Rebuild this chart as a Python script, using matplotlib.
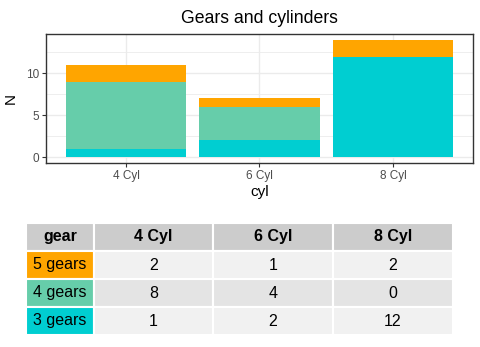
import numpy as np
import matplotlib.pyplot as plt

plt.rcParams['font.family'] = ['Liberation Sans', 'DejaVu Sans']

# Counts of cars by cylinders and gears
cyl_labels = ['4 Cyl', '6 Cyl', '8 Cyl']
gear_labels = ['3 gears', '4 gears', '5 gears']
gear3 = [1, 2, 12]
gear4 = [8, 4, 0]
gear5 = [2, 1, 2]
gear_colors = ['#00CED1', '#66CDAA', '#FFA500']

fig = plt.figure(figsize=(4.81, 3.47), dpi=100)

# --- stacked bars ---
ax = fig.add_axes([46 / 481, 1 - 163 / 347, 427 / 481, 129 / 347])
x = np.arange(1, len(cyl_labels) + 1)
bottom = np.zeros(len(cyl_labels))
for vals, col in zip([gear3, gear4, gear5], gear_colors):
    ax.bar(x, vals, width=0.9, bottom=bottom, color=col, zorder=2)
    bottom += np.array(vals)

ax.set_xlim(0.4, 3.6)
ax.set_ylim(-0.7, 14.7)
ax.set_xticks(x)
ax.set_xticklabels(cyl_labels)
ax.set_yticks([0, 5, 10])
ax.set_yticks([2.5, 7.5, 12.5], minor=True)
ax.grid(True, which='major', color='#EBEBEB', linewidth=1.0, zorder=0)
ax.grid(True, which='minor', axis='y', color='#EBEBEB', linewidth=0.6, zorder=0)
ax.tick_params(axis='both', which='major', labelsize=8.5, labelcolor='#4D4D4D',
               color='#333333', length=3, width=0.8, pad=2)
ax.tick_params(axis='y', which='minor', length=0)
for s in ax.spines.values():
    s.set_color('#333333')
    s.set_linewidth(1.0)
ax.set_xlabel('cyl', fontsize=11, labelpad=2)
ax.set_ylabel('N', fontsize=11, labelpad=6)
ax.set_title('Gears and cylinders', fontsize=12.7, pad=8)

# --- table of counts ---
tax = fig.add_axes([26 / 481, 1 - 335 / 347, 427 / 481, 112 / 347])
tax.axis('off')
rows = [gear_labels[2], gear_labels[1], gear_labels[0]]
data = [gear5, gear4, gear3]
cells = [[str(v) for v in r] for r in data]
row_cols = [gear_colors[2], gear_colors[1], gear_colors[0]]
shade = ['#F1F1F1', '#E4E4E4', '#F1F1F1']

cell_text = [['gear'] + cyl_labels] + [[r] + c for r, c in zip(rows, cells)]
cell_colours = [['#CCCCCC'] * 4] + [[rc] + [sh] * 3 for rc, sh in zip(row_cols, shade)]
tbl = tax.table(cellText=cell_text, cellColours=cell_colours, cellLoc='center',
                bbox=[0, 0, 1, 1], colWidths=[68, 119, 120, 120])
tbl.auto_set_font_size(False)
for (r, c), cell in tbl.get_celld().items():
    cell.set_edgecolor('white')
    cell.set_linewidth(1.5)
    cell.get_text().set_fontsize(11.5)
    if r == 0:
        cell.get_text().set_fontweight('bold')

fig.savefig('out.png', dpi=100)
